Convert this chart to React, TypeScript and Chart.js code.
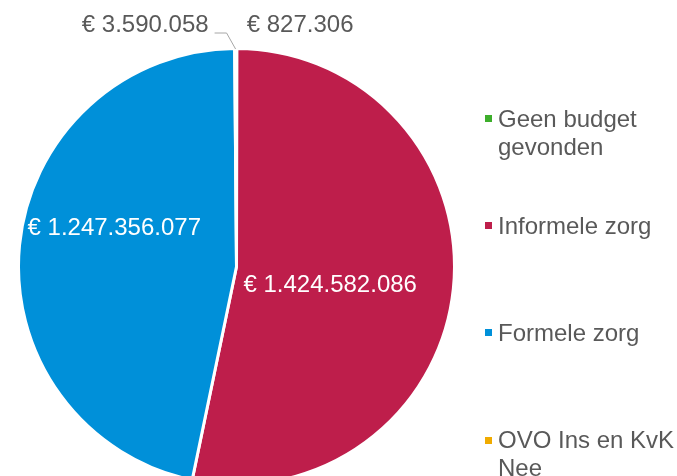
import React, { useEffect, useRef } from "react";
import { Chart, registerables } from "chart.js";

Chart.register(...registerables);

const categories = ["Geen budget gevonden", "Informele zorg", "Formele zorg", "OVO Ins en KvK Nee"];
const values = [827306, 1424582086, 1247356077, 3590058];
const colors = ["#3DAE2B", "#BE1E4B", "#0090D9", "#F0AB00"];

const fmt = (v: number) => "€ " + String(v).replace(/\B(?=(\d{3})+(?!\d))/g, ".");
const valueLabels = values.map(fmt);

const FONT = "'Liberation Sans', Arial, sans-serif";
const TEXT_GRAY = "#595959";

// label placement style per slice
const labelPlacement: any[] = [
  { mode: "outsideRight", dx: 10, dy: -18 },
  { mode: "inside", frac: 0.437, angle: 4.56 },
  { mode: "inside", frac: 0.59, angle: 12.52 },
  { mode: "outsideLeft" },
];

const labelPlugin = {
  id: "sliceLabels",
  afterDatasetsDraw(chart: any) {
    const ctx = chart.ctx;
    const meta = chart.getDatasetMeta(0);
    ctx.save();
    ctx.font = `24px ${FONT}`;
    meta.data.forEach((arc: any, i: number) => {
      const { x, y, startAngle, endAngle, outerRadius } = arc.getProps(
        ["x", "y", "startAngle", "endAngle", "outerRadius"],
        true
      );
      const mid = (startAngle + endAngle) / 2;
      const p = labelPlacement[i];
      const text = valueLabels[i];
      const ex = x + Math.cos(mid) * (outerRadius - 1.5);
      const ey = y + Math.sin(mid) * (outerRadius - 1.5);
      if (p.mode === "inside") {
        const a = mid + (p.angle * Math.PI) / 180;
        const r = p.frac * outerRadius;
        const cx = x + Math.cos(a) * r;
        const cy = y + Math.sin(a) * r;
        ctx.fillStyle = "#ffffff";
        ctx.textAlign = "center";
        ctx.textBaseline = "alphabetic";
        ctx.fillText(text, cx, cy + 24 * 0.358);
      } else if (p.mode === "outsideRight") {
        ctx.fillStyle = TEXT_GRAY;
        ctx.textAlign = "left";
        ctx.textBaseline = "alphabetic";
        ctx.fillText(text, ex + p.dx, ey + p.dy);
      } else {
        ctx.strokeStyle = "#A6A6A6";
        ctx.lineWidth = 1;
        ctx.beginPath();
        ctx.moveTo(ex, ey - 1);
        ctx.lineTo(ex - 9, ey - 17);
        ctx.lineTo(ex - 21, ey - 17);
        ctx.stroke();
        ctx.fillStyle = TEXT_GRAY;
        ctx.textAlign = "right";
        ctx.textBaseline = "alphabetic";
        ctx.fillText(text, ex - 27, ey - 17.7);
      }
    });
    ctx.restore();
  },
};

export default function App() {
  const ref = useRef<HTMLCanvasElement | null>(null);
  useEffect(() => {
    if (!ref.current) return;
    const chart = new Chart(ref.current, {
      type: "pie",
      data: {
        labels: categories,
        datasets: [
          {
            data: values,
            backgroundColor: colors,
            borderColor: "#ffffff",
            borderWidth: 3,
          },
        ],
      },
      options: {
        responsive: false,
        animation: false,
        devicePixelRatio: 1,
        radius: 218,
        layout: { padding: { top: 57, right: 204, left: 0, bottom: 0 } },
        plugins: {
          legend: { display: false },
          tooltip: { enabled: false },
        },
      } as any,
      plugins: [labelPlugin],
    });
    return () => chart.destroy();
  }, []);

  const legendTop = 105;
  const legendStep = 107.1;

  return (
    <div
      style={{
        position: "fixed",
        left: 0,
        top: 0,
        width: 677,
        height: 476,
        overflow: "hidden",
        background: "#ffffff",
        fontFamily: FONT,
      }}
    >
      <canvas ref={ref} width={677} height={476} style={{ position: "absolute", left: 0, top: 0 }} />
      {categories.map((c, i) => (
        <div key={c}>
          <div
            style={{
              position: "absolute",
              left: 485,
              top: legendTop + i * legendStep + 10.2,
              width: 7,
              height: 7,
              background: colors[i],
            }}
          />
          <div
            style={{
              position: "absolute",
              left: 498,
              top: legendTop + i * legendStep,
              width: 179,
              fontSize: 24,
              lineHeight: "28px",
              color: TEXT_GRAY,
            }}
          >
            {c}
          </div>
        </div>
      ))}
    </div>
  );
}
